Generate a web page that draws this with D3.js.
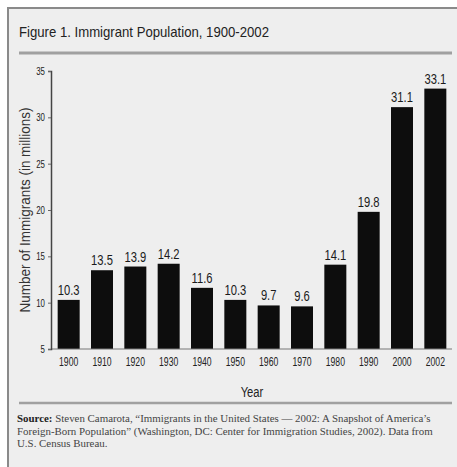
<!DOCTYPE html>
<html>
<head>
<meta charset="utf-8">
<script src="https://cdn.jsdelivr.net/npm/d3@7"></script>
<style>
  html, body { margin: 0; padding: 0; background: #fff; }
  svg { display: block; }
</style>
</head>
<body>
<svg id="chart" width="457" height="467"></svg>
<script>
// chart data
const years = ["1900", "1910", "1920", "1930", "1940", "1950", "1960", "1970", "1980", "1990", "2000", "2002"];
const immigrants = [10.3, 13.5, 13.9, 14.2, 11.6, 10.3, 9.7, 9.6, 14.1, 19.8, 31.1, 33.1];
const yTicks = [5, 10, 15, 20, 25, 30, 35];
const titleText = "Figure 1. Immigrant Population, 1900-2002";
const yLabel = "Number of Immigrants (in millions)";
const xLabel = "Year";
const sourceLines = [
  ["Source:", " Steven Camarota, \u201cImmigrants in the United States \u2014 2002: A Snapshot of America\u2019s"],
  ["", "Foreign-Born Population\u201d (Washington, DC: Center for Immigration Studies, 2002). Data from"],
  ["", "U.S. Census Bureau."]
];

const svg = d3.select("#chart");
const sans = "'Liberation Sans', Arial, sans-serif";
const serif = "'Liberation Serif', 'Times New Roman', serif";

// squeeze text horizontally, no narrow font is installed
function condense(sel, f) {
  sel.each(function() {
    const w = this.getComputedTextLength();
    d3.select(this).attr("textLength", w * f).attr("lengthAdjust", "spacingAndGlyphs");
  });
}

// panel
svg.append("rect")
    .attr("x", 8).attr("y", 8)
    .attr("width", 460).attr("height", 470)
    .attr("fill", "#eeeeee")
    .attr("stroke", "#8a8a8a")
    .attr("stroke-width", 2);

svg.append("text")
    .attr("x", 19).attr("y", 37)
    .attr("font-family", sans)
    .attr("font-size", 15)
    .attr("fill", "#222")
    .attr("textLength", 250)
    .attr("lengthAdjust", "spacingAndGlyphs")
    .text(titleText);

svg.append("line")
    .attr("x1", 19).attr("x2", 452)
    .attr("y1", 53).attr("y2", 53)
    .attr("stroke", "#a0a0a0")
    .attr("stroke-width", 3);

// scales
const x = d3.scaleBand()
    .domain(years)
    .range([52, 452])
    .paddingInner(0.34)
    .paddingOuter(0.17);

const y = d3.scaleLinear()
    .domain([5, 35])
    .range([349, 71]);

// bars
svg.append("g")
  .selectAll("rect")
  .data(immigrants)
  .join("rect")
    .attr("x", (d, i) => x(years[i]))
    .attr("y", d => y(d))
    .attr("width", x.bandwidth())
    .attr("height", d => y(5) - y(d))
    .attr("fill", "#0d0d0d");

// value labels
svg.append("g")
  .selectAll("text")
  .data(immigrants)
  .join("text")
    .attr("x", (d, i) => x(years[i]) + x.bandwidth() / 2)
    .attr("y", d => y(d) - 5)
    .attr("text-anchor", "middle")
    .attr("font-family", sans)
    .attr("font-size", 14)
    .attr("fill", "#1a1a1a")
    .text(d => d.toFixed(1))
    .call(condense, 0.8);

// baseline
svg.append("line")
    .attr("x1", 51).attr("x2", 452)
    .attr("y1", y(5)).attr("y2", y(5))
    .attr("stroke", "#777")
    .attr("stroke-width", 1);

// y axis
const yAxis = svg.append("g")
    .attr("transform", "translate(51,0)")
    .call(d3.axisLeft(y).tickValues(yTicks).tickSize(3).tickPadding(3));
yAxis.select(".domain").attr("stroke", "#444").attr("stroke-width", 1.5);
yAxis.selectAll(".tick line").attr("stroke", "#666");
yAxis.selectAll(".tick text")
    .attr("font-family", sans)
    .attr("font-size", 10.5)
    .attr("fill", "#222")
    .call(condense, 0.75);

// x axis labels
const xAxis = svg.append("g")
    .attr("transform", `translate(0,${y(5)})`)
    .call(d3.axisBottom(x).tickSize(0).tickPadding(8));
xAxis.select(".domain").remove();
xAxis.selectAll(".tick text")
    .attr("font-family", sans)
    .attr("font-size", 12)
    .attr("fill", "#222")
    .call(condense, 0.72);

// axis titles
svg.append("text")
    .attr("x", 252).attr("y", 397)
    .attr("text-anchor", "middle")
    .attr("font-family", sans)
    .attr("font-size", 14)
    .attr("fill", "#222")
    .text(xLabel)
    .call(condense, 0.8);

svg.append("text")
    .attr("transform", "translate(30,210) rotate(-90)")
    .attr("text-anchor", "middle")
    .attr("font-family", sans)
    .attr("font-size", 14)
    .attr("fill", "#333")
    .attr("textLength", 205)
    .attr("lengthAdjust", "spacingAndGlyphs")
    .text(yLabel);

// source note
svg.append("line")
    .attr("x1", 19).attr("x2", 452)
    .attr("y1", 403).attr("y2", 403)
    .attr("stroke", "#a0a0a0")
    .attr("stroke-width", 2.5);

const src = svg.append("g")
    .attr("font-family", serif)
    .attr("font-size", 10.9)
    .attr("fill", "#444");
sourceLines.forEach((ln, i) => {
  const t = src.append("text")
      .attr("x", 17)
      .attr("y", 422 + i * 12.5);
  if (ln[0]) t.append("tspan").attr("font-weight", "bold").attr("fill", "#222").text(ln[0]);
  t.append("tspan").text(ln[1]);
});
</script>
</body>
</html>
